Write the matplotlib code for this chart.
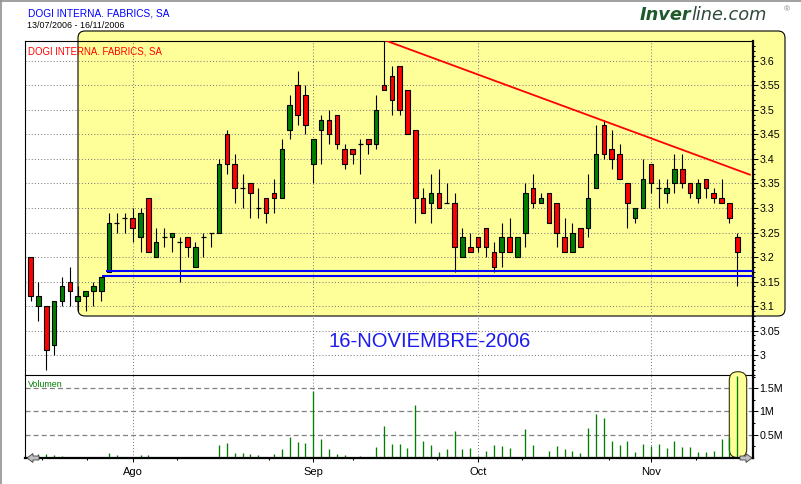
import matplotlib
matplotlib.use("Agg")
import matplotlib.pyplot as plt
from matplotlib.patches import FancyBboxPatch, Polygon
from matplotlib.lines import Line2D
from matplotlib.transforms import IdentityTransform

W, H = 801, 484

# sesiones diarias 13/07/2006 - 16/11/2006 (DOGI)
opens = [3.20, 3.10, 3.10, 3.02, 3.11, 3.15, 3.11, 3.12, 3.13, 3.13,
         3.17, 3.27, 3.28, 3.28, 3.24, 3.32, 3.20, 3.24, 3.24, 3.23,
         3.24, 3.18, 3.24, 3.25, 3.25, 3.45, 3.39, 3.34, 3.35, 3.30,
         3.32, 3.33, 3.32, 3.46, 3.55, 3.53, 3.39, 3.46, 3.48, 3.49,
         3.42, 3.42, 3.43, 3.44, 3.43, 3.55, 3.57, 3.59, 3.54, 3.46,
         3.32, 3.31, 3.33, 3.31, 3.31, 3.20, 3.22, 3.24, 3.26, 3.21,
         3.21, 3.24, 3.20, 3.25, 3.34, 3.31, 3.33, 3.31, 3.24, 3.21,
         3.26, 3.26, 3.34, 3.47, 3.42, 3.41, 3.35, 3.28, 3.30, 3.39,
         3.34, 3.33, 3.35, 3.38, 3.35, 3.32, 3.36, 3.33, 3.32, 3.31,
         3.24]
highs = [3.20, 3.15, 3.10, 3.11, 3.16, 3.18, 3.14, 3.13, 3.15, 3.16,
         3.29, 3.29, 3.29, 3.30, 3.30, 3.32, 3.26, 3.26, 3.25, 3.24,
         3.24, 3.23, 3.25, 3.25, 3.40, 3.46, 3.41, 3.37, 3.35, 3.34,
         3.32, 3.36, 3.44, 3.53, 3.58, 3.55, 3.44, 3.49, 3.50, 3.49,
         3.43, 3.42, 3.44, 3.44, 3.53, 3.64, 3.59, 3.59, 3.54, 3.46,
         3.34, 3.37, 3.38, 3.35, 3.33, 3.26, 3.25, 3.24, 3.26, 3.23,
         3.27, 3.28, 3.24, 3.35, 3.37, 3.33, 3.33, 3.31, 3.28, 3.27,
         3.26, 3.37, 3.47, 3.48, 3.46, 3.43, 3.35, 3.30, 3.40, 3.39,
         3.36, 3.36, 3.41, 3.41, 3.35, 3.36, 3.36, 3.34, 3.36, 3.31,
         3.25]
lows = [3.11, 3.07, 2.97, 3.00, 3.10, 3.10, 3.09, 3.09, 3.10, 3.11,
        3.17, 3.25, 3.25, 3.23, 3.21, 3.21, 3.20, 3.22, 3.21, 3.15,
        3.20, 3.18, 3.20, 3.22, 3.25, 3.37, 3.31, 3.30, 3.28, 3.28,
        3.27, 3.29, 3.32, 3.44, 3.47, 3.45, 3.35, 3.39, 3.43, 3.42,
        3.38, 3.39, 3.37, 3.41, 3.42, 3.54, 3.49, 3.49, 3.45, 3.27,
        3.29, 3.27, 3.30, 3.31, 3.17, 3.20, 3.21, 3.21, 3.20, 3.17,
        3.18, 3.21, 3.20, 3.22, 3.30, 3.31, 3.27, 3.22, 3.21, 3.21,
        3.22, 3.24, 3.34, 3.40, 3.38, 3.36, 3.26, 3.27, 3.30, 3.33,
        3.30, 3.31, 3.33, 3.34, 3.32, 3.31, 3.32, 3.31, 3.31, 3.27,
        3.14]
closes = [3.12, 3.12, 3.01, 3.11, 3.14, 3.13, 3.12, 3.13, 3.14, 3.16,
          3.27, 3.27, 3.28, 3.26, 3.29, 3.21, 3.23, 3.24, 3.25, 3.23,
          3.22, 3.22, 3.24, 3.25, 3.39, 3.39, 3.34, 3.34, 3.33, 3.30,
          3.29, 3.32, 3.42, 3.51, 3.49, 3.47, 3.44, 3.48, 3.45, 3.43,
          3.39, 3.41, 3.43, 3.43, 3.50, 3.54, 3.52, 3.50, 3.45, 3.32,
          3.29, 3.33, 3.30, 3.31, 3.22, 3.24, 3.21, 3.22, 3.22, 3.18,
          3.24, 3.21, 3.24, 3.33, 3.31, 3.32, 3.27, 3.25, 3.21, 3.25,
          3.22, 3.32, 3.41, 3.41, 3.40, 3.36, 3.31, 3.30, 3.36, 3.35,
          3.34, 3.34, 3.38, 3.35, 3.33, 3.35, 3.34, 3.32, 3.31, 3.28,
          3.21]
# volumen en millones de titulos
volumes = [0.05, 0.08, 0.08, 0.06, 0.04, 0.01, 0.01, 0.01, 0.01, 0.01,
           0.10, 0.06, 0.01, 0.01, 0.06, 0.06, 0.01, 0.01, 0.01, 0.01,
           0.01, 0.01, 0.01, 0.01, 0.27, 0.32, 0.10, 0.10, 0.08, 0.06,
           0.01, 0.08, 0.19, 0.45, 0.34, 0.32, 1.45, 0.40, 0.19, 0.08,
           0.06, 0.01, 0.04, 0.01, 0.23, 0.68, 0.30, 0.30, 0.20, 1.14,
           0.36, 0.27, 0.12, 0.19, 0.58, 0.19, 0.21, 0.04, 0.14, 0.27,
           0.25, 0.21, 0.01, 0.62, 0.27, 0.01, 0.14, 0.25, 0.19, 0.14,
           0.10, 0.64, 0.94, 0.86, 0.36, 0.27, 0.36, 0.12, 0.30, 0.25,
           0.30, 0.21, 0.36, 0.23, 0.23, 0.12, 0.12, 0.14, 0.40, 0.45,
           1.77]

month_pos = [13, 36, 57, 79]
month_labels = ['Ago', 'Sep', 'Oct', 'Nov']
minor_pos = [1.5, 7.2, 18.7, 30.3, 41.1, 51.8, 62.6, 73.6, 84.8]

price_ticks = [3.0, 3.05, 3.1, 3.15, 3.2, 3.25, 3.3, 3.35, 3.4, 3.45, 3.5, 3.55, 3.6]
price_labels = ['3', '3.05', '3.1', '3.15', '3.2', '3.25', '3.3', '3.35', '3.4',
                '3.45', '3.5', '3.55', '3.6']
vol_ticks = [0.5, 1.0, 1.5]
vol_labels = ['0.5M', '1M', '1.5M']

# lineas dibujadas por el analista
trend_x = [45, 91.6]
trend_y = [3.643, 3.368]
support_y = [3.171, 3.162]
support_x0 = [9.6, 9.1]

RED = '#FF0000'
GREEN = '#008000'
YELLOW = '#FFFF99'
BLUE = '#0000FF'

plt.rcParams['font.family'] = ['Liberation Sans', 'DejaVu Sans']

fig = plt.figure(figsize=(W / 100, H / 100), dpi=100)
fig.patch.set_facecolor('white')


def fx(x):
    return x / W


def fy(y):
    return 1 - y / H


left, right = 25, 753
top, mid, bottom = 41, 375, 457.7
xlim = (-0.71, 92.0)

ax = fig.add_axes([fx(left), fy(mid), (right - left) / W, (mid - top) / H])
axv = fig.add_axes([fx(left), fy(bottom), (right - left) / W, (bottom - mid) / H])

for a in (ax, axv):
    a.set_facecolor('none')
    a.set_xlim(*xlim)
    a.set_axisbelow(True)

# ---- price panel ----
ax.set_ylim(2.9592, 3.6408)

# yellow rounded box (drawn in pixel coords so the corners stay round)
box = FancyBboxPatch((78, H - 316), 785 - 78, 316 - 31,
                     boxstyle='round,pad=0,rounding_size=7',
                     transform=IdentityTransform(), fc=YELLOW, ec='black',
                     lw=0.8, zorder=0.2, clip_on=False)
ax.add_patch(box)

n = len(closes)
xs = list(range(n))
ax.vlines(xs, lows, highs, color='black', lw=0.8, zorder=2)
for i in xs:
    o, c = opens[i], closes[i]
    if abs(o - c) < 1e-9:
        ax.hlines(o, i - 0.32, i + 0.32, color='black', lw=0.9, zorder=3)
    else:
        ax.bar(i, abs(c - o), bottom=min(o, c), width=0.58,
               color=GREEN if c > o else RED, edgecolor='black', lw=0.8, zorder=3)

ax.plot(trend_x, trend_y, color=RED, lw=1.3, zorder=4)
ax.hlines(support_y, support_x0, xlim[1], color=BLUE, lw=1.5, zorder=4)

ax.yaxis.tick_right()
ax.set_yticks(price_ticks)
ax.set_yticklabels(price_labels)
ax.set_yticks([3.0 + k * 0.01 for k in range(-4, 64)], minor=True)
ax.tick_params(axis='y', which='major', direction='out', length=3.6, width=0.75,
               pad=1.2, labelsize=7.7, colors='black')
ax.tick_params(axis='y', which='minor', direction='out', length=1.6, width=0.75)
ax.set_xticks(month_pos)
ax.tick_params(axis='x', length=0, labelbottom=False)
ax.grid(True, which='major', color='#808080', lw=0.75, ls=(0, (1, 2)))

ax.spines['left'].set_linewidth(0.8)
ax.spines['top'].set_linewidth(0.8)
ax.spines['bottom'].set_linewidth(0.8)
ax.spines['right'].set_linewidth(1.6)

ax.text(0.004, 0.985, 'DOGI INTERNA. FABRICS, SA', transform=ax.transAxes,
        color=RED, fontsize=6.9, ha='left', va='top', zorder=5)
ax.text(fx(430), fy(341.5), '16-NOVIEMBRE-2006', transform=fig.transFigure,
        color='#1C1CF0', fontsize=14.6, ha='center', va='center', zorder=5)

# ---- volume panel ----
axv.set_ylim(0, 1.787)
capsule = FancyBboxPatch((729.3, H - 457.7), 17.4, 457.7 - 371.7,
                         boxstyle='round,pad=0,rounding_size=8.5',
                         transform=IdentityTransform(), fc=YELLOW, ec='#333300',
                         lw=0.8, zorder=1, clip_on=False)
axv.add_patch(capsule)
axv.vlines(xs, 0, volumes, color=GREEN, lw=0.95, zorder=2)

axv.yaxis.tick_right()
axv.set_yticks(vol_ticks)
axv.set_yticklabels(vol_labels)
axv.set_yticks([0.25, 0.75, 1.25, 1.75], minor=True)
axv.tick_params(axis='y', which='major', direction='out', length=3.6, width=0.75,
                pad=1.2, labelsize=7.7)
axv.tick_params(axis='y', which='minor', direction='out', length=1.6, width=0.75)
axv.set_xticks(month_pos)
axv.set_xticklabels(month_labels)
axv.set_xticks(minor_pos, minor=True)
axv.tick_params(axis='x', which='major', direction='out', length=3, width=0.75,
                pad=4, labelsize=8)
axv.tick_params(axis='x', which='minor', direction='out', length=1.7, width=0.75)
axv.grid(True, axis='y', color='#808080', lw=0.9, ls=(0, (4, 2.5)))
axv.grid(True, axis='x', color='#808080', lw=0.75, ls=(0, (1, 2)))

axv.spines['top'].set_visible(False)
axv.spines['left'].set_linewidth(0.8)
axv.spines['bottom'].set_linewidth(1.6)
axv.spines['right'].set_linewidth(1.6)

axv.text(0.004, 0.94, 'Volumen', transform=axv.transAxes, color=GREEN,
         fontsize=6.4, ha='left', va='top')

# scroll arrows
arrow_l = [(27, 458), (33, 453.5), (33, 456), (39, 456), (39, 460), (33, 460), (33, 462.5)]
arrow_r = [(752, 458), (746, 453.5), (746, 456), (740, 456), (740, 460), (746, 460), (746, 462.5)]
for pts in (arrow_l, arrow_r):
    fig.add_artist(Polygon([(fx(px), fy(py)) for px, py in pts], closed=True,
                           transform=fig.transFigure, fc='#C0C0C0', ec='#404040',
                           lw=0.6, zorder=6))

# frame edges
fig.add_artist(Line2D([fx(0.5), fx(0.5)], [0, 1], color='#909090', lw=1.2))
fig.add_artist(Line2D([0, 1], [fy(0.5), fy(0.5)], color='#909090', lw=1.2))

# headings
fig.text(fx(28), fy(17), 'DOGI INTERNA. FABRICS, SA', color=BLUE, fontsize=7.3,
         ha='left', va='baseline')
fig.text(fx(27), fy(28.5), '13/07/2006 - 16/11/2006', color='black', fontsize=6.4,
         ha='left', va='baseline')

# logo
t1 = fig.text(fx(640), fy(20), 'Inver', color='#1E5A2C', fontsize=12.8,
              fontweight='bold', fontstyle='italic', family='DejaVu Sans',
              ha='left', va='baseline')
ax.annotate('line.com', xy=(1, 0), xycoords=t1, color='#2E4A3A', fontsize=12.8,
            fontstyle='italic', family='DejaVu Sans', ha='left', va='bottom',
            annotation_clip=False)
fig.text(fx(787), fy(10), '®', color='#808080', fontsize=6, ha='center',
         va='center')

fig.savefig('out.png', dpi=100)
